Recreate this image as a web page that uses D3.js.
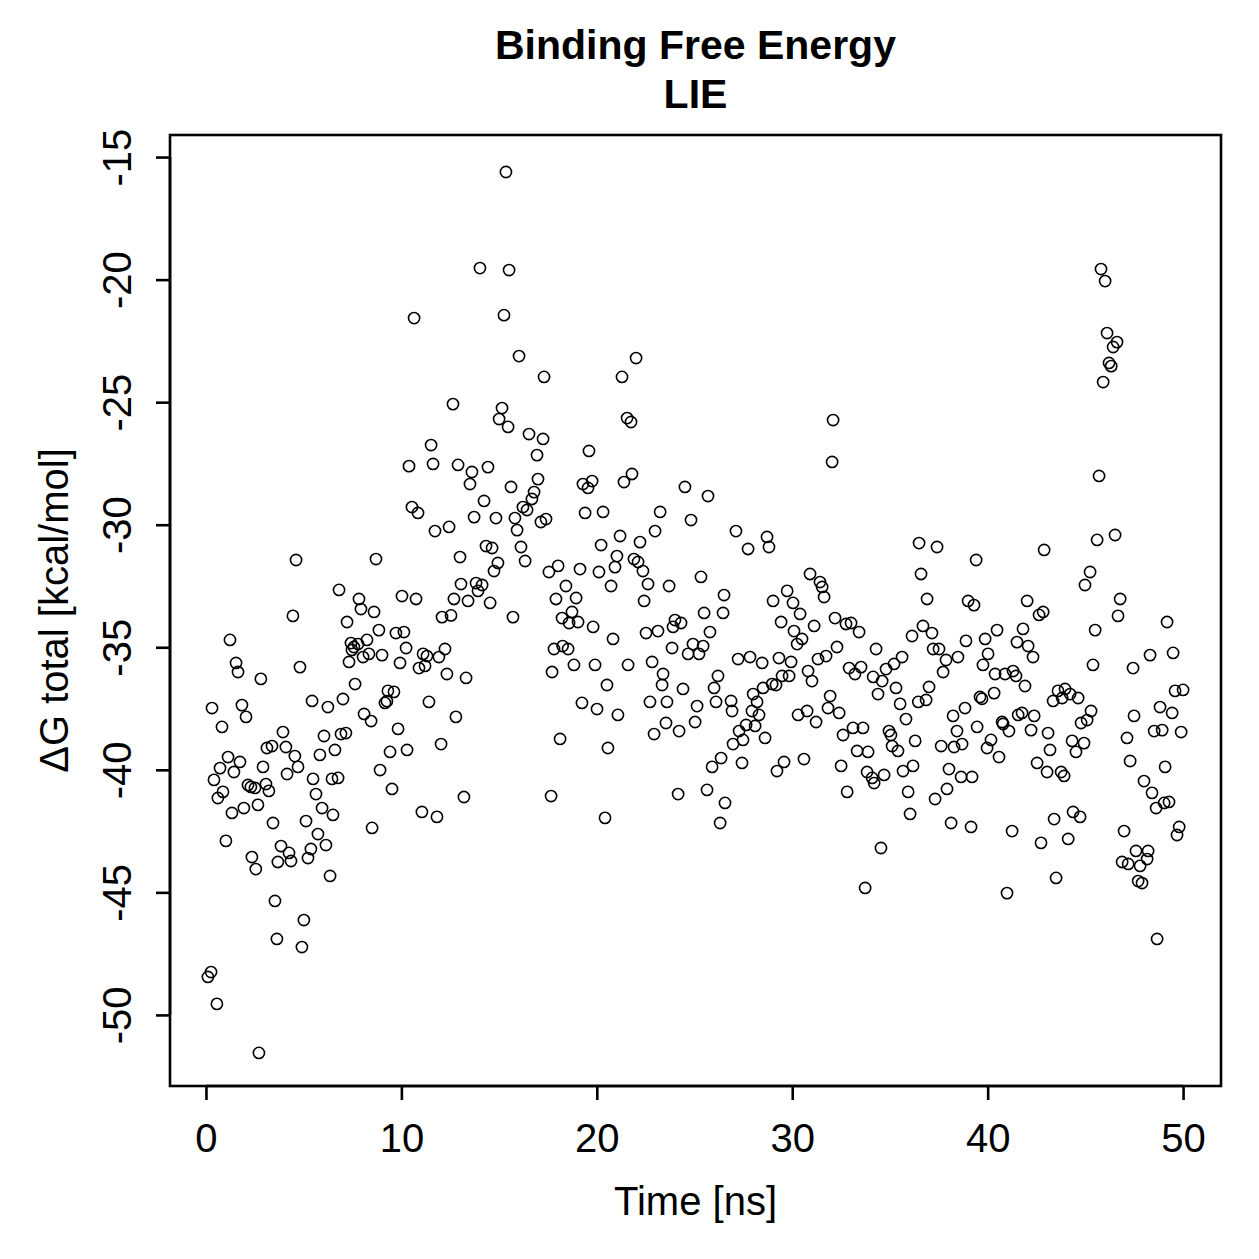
<!DOCTYPE html>
<html>
<head>
<meta charset="utf-8">
<script src="https://cdn.jsdelivr.net/npm/d3@7"></script>
<style>
  html, body { margin: 0; padding: 0; background: #ffffff; }
  svg { display: block; }
  text { font-family: "Liberation Sans", Arial, Helvetica, sans-serif; fill: #000; }
</style>
</head>
<body>
<svg id="chart" width="1259" height="1259"></svg>
<script>
// ---- Data ----
const titleLines = ["Binding Free Energy", "LIE"];
const xLabel = "Time [ns]";
const yLabel = "\u0394G total [kcal/mol]";
const xTicks = [0, 10, 20, 30, 40, 50];
const xTickLabels = ["0", "10", "20", "30", "40", "50"];
const yTicks = [-15, -20, -25, -30, -35, -40, -45, -50];
const yTickLabels = ["-15", "-20", "-25", "-30", "-35", "-40", "-45", "-50"];

const timeNs = [
0.10,0.26,0.31,0.41,0.56,0.61,0.72,0.82,0.87,1.02,1.13,1.23,1.33,1.43,1.54,1.64,1.74,1.84,1.94,2.05,
2.15,2.30,2.35,2.51,2.55,2.66,2.71,2.81,2.92,3.07,3.12,3.22,3.38,3.43,3.53,3.63,3.68,3.84,3.94,4.09,
4.15,4.25,4.35,4.45,4.55,4.61,4.71,4.81,4.91,5.01,5.12,5.22,5.37,5.43,5.48,5.63,5.73,5.83,5.94,6.04,
6.14,6.24,6.35,6.45,6.50,6.60,6.76,6.81,6.91,7.01,7.16,7.22,7.32,7.42,7.47,7.57,7.63,7.78,7.83,7.93,
8.04,8.09,8.24,8.34,8.45,8.50,8.60,8.70,8.85,8.91,9.01,9.16,9.26,9.31,9.42,9.52,9.62,9.72,9.83,9.93,
10.03,10.13,10.24,10.29,10.39,10.54,10.65,10.75,10.85,10.90,11.05,11.11,11.21,11.31,11.41,11.52,11.62,11.72,11.82,11.92,
12.03,12.08,12.23,12.33,12.44,12.54,12.64,12.69,12.79,12.90,13.00,13.05,13.20,13.31,
13.41,13.51,13.61,13.72,13.82,13.92,14.02,14.13,14.23,14.33,14.43,14.54,14.64,14.74,14.84,14.94,15.00,15.15,15.25,15.35,
15.46,15.51,15.61,15.71,15.81,15.92,16.02,16.12,16.22,16.33,16.43,16.53,16.68,16.79,16.94,16.99,17.14,17.25,17.30,17.40,
17.55,17.66,17.71,17.81,17.91,18.02,18.12,18.22,18.25,18.42,18.53,18.58,18.73,18.83,18.94,19.04,19.14,19.24,19.29,19.40,
19.55,19.60,19.76,19.81,19.91,20.01,20.11,20.22,20.32,20.42,20.52,20.57,20.73,20.83,20.93,21.03,21.08,21.19,21.29,21.39,
21.55,21.60,21.75,21.80,21.90,22.01,22.11,22.21,22.36,22.42,22.52,22.62,22.72,22.83,22.93,22.98,23.13,23.24,23.34,23.39,
23.54,23.59,23.70,23.85,23.90,24.00,24.16,24.21,24.31,24.41,24.51,24.67,24.82,24.92,25.03,25.13,25.23,25.33,25.44,25.49,
25.64,25.69,25.79,25.90,26.00,26.10,26.20,26.31,26.36,
26.46,26.51,26.56,26.87,26.92,26.97,27.12,27.23,27.28,27.43,27.48,27.64,27.74,27.84,27.94,28.00,28.10,28.20,28.30,28.46,
28.51,28.61,28.71,28.81,28.97,29.02,29.17,29.22,29.32,29.43,29.48,29.58,29.74,29.84,29.94,30.04,30.09,30.25,30.30,30.40,
30.50,30.60,30.76,30.81,30.91,31.01,31.12,31.22,31.32,31.42,31.53,31.63,31.73,31.83,31.94,32.04,32.09,32.19,32.29,32.40,
32.50,32.60,32.75,32.81,32.91,33.01,33.11,33.21,33.32,33.42,33.52,33.62,33.73,33.83,33.88,34.09,34.14,34.19,34.29,34.39,
34.54,34.60,34.70,34.80,34.95,35.05,35.11,35.21,35.31,35.41,35.52,35.62,35.67,35.82,35.93,36.03,36.13,36.18,36.29,36.45,
36.49,36.59,36.69,36.85,36.90,37.00,37.15,37.21,37.31,37.41,37.51,37.62,37.72,37.87,37.92,38.02,38.13,38.23,38.28,38.43,
38.48,38.64,38.69,38.84,38.89,39.00,39.15,39.20,39.30,39.41,39.46,39.61,39.71,39.76,39.87,39.97,40.02,
40.17,40.33,40.38,40.48,40.58,40.74,40.79,40.89,40.99,41.09,41.25,41.30,41.45,41.50,41.56,41.76,41.81,41.91,42.02,42.07,
42.22,42.32,42.38,42.53,42.63,42.73,42.84,42.89,43.04,43.09,43.19,43.35,43.40,43.50,43.60,43.76,43.81,43.91,43.96,44.12,
44.22,44.32,44.37,44.52,44.63,44.73,44.78,44.93,44.98,45.09,45.24,45.29,45.39,45.50,45.60,45.70,45.80,45.91,46.01,46.11,
46.21,46.32,46.42,46.52,46.62,46.67,46.78,46.88,46.98,47.13,47.19,47.29,47.44,47.49,47.59,47.70,47.80,47.90,48.00,48.16,
48.21,48.31,48.41,48.52,48.62,48.67,48.82,48.93,49.03,49.08,49.18,49.28,49.44,49.49,49.59,49.69,49.80,49.90,50.00
];

const deltaG = [
-48.45,-48.25,-37.48,-40.41,-49.55,-41.15,-39.93,-38.25,-40.90,-42.90,-39.48,-34.70,-41.76,-40.09,-35.64,-36.01,-39.68,-37.36,-41.56,-37.84,
-40.62,-40.70,-43.56,-40.74,-44.05,-41.43,-51.55,-36.29,-39.88,-40.58,-39.11,-40.86,-39.03,-42.17,-45.35,-46.90,-43.76,-43.11,-38.46,-39.07,
-40.17,-43.39,-43.72,-33.72,-39.44,-31.44,-39.88,-35.81,-47.23,-46.13,-42.09,-43.60,-43.23,-37.19,-40.37,-40.99,-42.62,-39.39,-41.56,-38.62,
-43.07,-37.44,-44.33,-40.37,-41.84,-39.19,-40.33,-32.66,-38.54,-37.11,-38.50,-33.97,-35.60,-34.83,-35.11,-34.99,-36.50,-34.87,-33.03,-33.44,
-35.40,-37.72,-34.70,-35.27,-38.01,-42.37,-33.56,-31.40,-34.30,-40.01,-35.32,-37.27,-37.20,-36.78,-39.27,-40.78,-36.82,-34.42,-38.33,-35.64,
-32.91,-34.38,-35.03,-39.19,-27.61,-29.28,-21.57,-33.03,-29.52,-35.85,-41.72,-35.27,-35.76,-35.36,-37.23,-26.75,-27.52,-30.26,-41.92,-35.40,
-38.95,-33.77,-35.07,-36.09,-30.09,-33.70,-25.08,-33.03,-37.84,-27.56,-31.32,-32.42,-41.11,-36.25,
-33.11,-28.34,-27.85,-29.69,-32.38,-32.70,-19.53,-32.46,-29.03,-30.87,-27.65,-33.19,-30.95,-31.89,-29.73,-31.56,-25.69,-25.24,-21.45,-15.61,
-26.01,-19.61,-28.46,-33.77,-29.73,-30.22,-23.12,-30.91,-29.28,-31.48,-29.40,-26.30,-28.95,-28.67,-27.16,-28.14,-29.89,-26.50,-23.97,-29.77,
-31.93,-41.07,-36.01,-35.07,-33.03,-31.68,-38.74,-33.81,-34.95,-32.50,-35.07,-34.01,-33.56,-35.72,-32.99,-33.97,-31.81,-37.27,-28.34,-29.52,
-28.50,-26.99,-28.22,-34.17,-35.72,-37.52,-31.93,-30.83,-29.48,-41.96,-36.54,-39.11,-32.50,-34.66,-31.73,-31.28,-37.76,-30.46,-23.97,-28.26,
-25.65,-35.72,-25.81,-27.93,-31.40,-23.20,-31.52,-30.71,-31.89,-33.11,-34.42,-32.42,-37.23,-35.60,-38.54,-30.26,-34.34,-29.48,-36.54,-36.09,
-38.09,-37.23,-32.50,-35.03,-34.17,-33.89,-40.99,-38.42,-34.01,-36.70,-28.46,-35.27,-29.81,-34.87,-38.05,-37.40,-35.27,-32.13,-34.95,-33.60,
-40.82,-28.83,-34.38,-39.88,-36.66,-37.23,-36.17,-42.17,-39.52,
-33.60,-32.87,-41.35,-37.19,-37.60,-38.95,-30.26,-35.48,-38.42,-39.72,-38.78,-38.17,-30.99,-35.40,-37.60,-36.91,-38.21,-37.23,-37.76,-35.64,
-36.66,-38.70,-30.50,-30.91,-36.50,-33.11,-36.54,-40.05,-35.44,-33.97,-36.17,-39.68,-32.70,-36.17,-35.60,-33.19,-34.34,-34.87,-37.76,-33.64,
-34.66,-39.56,-37.60,-35.97,-32.01,-36.38,-34.13,-38.05,-35.48,-32.34,-32.54,-32.95,-35.36,-37.48,-36.99,-27.44,-25.73,-33.81,-34.99,-37.68,
-39.84,-38.58,-34.05,-40.90,-35.85,-34.01,-38.29,-36.09,-39.23,-34.38,-35.81,-38.29,-44.82,-40.09,-39.27,-40.33,-36.21,-40.54,-35.07,-36.91,
-43.19,-36.38,-40.21,-35.89,-38.42,-38.58,-39.03,-35.68,-36.66,-39.23,-37.31,-35.40,-40.05,-37.93,-40.90,-41.80,-34.54,-39.84,-38.82,-37.23,
-30.75,-32.01,-34.13,-37.15,-33.03,-36.62,-34.42,-35.07,-41.19,-30.91,-35.07,-39.03,-36.01,-35.52,-40.78,-39.97,-42.17,-37.80,-39.07,-38.42,
-35.40,-40.29,-38.95,-37.48,-34.74,-33.11,-42.33,-40.29,-33.28,-31.44,-38.25,-37.03,-37.10,-35.72,-34.66,-39.11,-35.27,
-38.78,-36.87,-36.09,-34.30,-39.48,-38.05,-38.13,-36.09,-45.03,-38.42,-42.50,-35.97,-36.17,-34.79,-37.76,-37.68,-34.25,-36.58,-33.11,-34.95,
-38.38,-35.40,-37.80,-39.72,-33.68,-42.98,-33.56,-31.03,-40.09,-38.50,-39.19,-37.19,-42.01,-44.41,-36.78,-40.09,-37.07,-40.25,-36.70,-42.82,
-36.91,-38.82,-41.72,-39.27,-37.07,-41.92,-38.09,-38.91,-32.46,-37.97,-31.93,-37.60,-35.72,-34.30,-30.62,-28.01,-19.57,-24.18,-20.06,-22.18,
-23.40,-23.53,-22.75,-30.42,-22.55,-33.72,-33.03,-43.76,-42.50,-38.70,-43.84,-39.64,-35.85,-37.80,-43.31,-44.54,-43.92,-44.62,-40.46,-43.64,
-43.31,-35.32,-40.94,-38.42,-41.56,-46.90,-37.44,-38.38,-41.35,-39.88,-33.97,-41.31,-37.68,-35.23,-36.78,-42.66,-42.33,-38.46,-36.74
];

// ---- Layout ----
const svg = d3.select("#chart");
const W = 1259, H = 1259;
svg.append("rect").attr("x", 0).attr("y", 0).attr("width", W).attr("height", H).attr("fill", "#fff");

const plot = { left: 170, right: 1221, top: 135, bottom: 1086 };
const fontSize = 40;

// R-style padded domains (4% extension)
const x = d3.scaleLinear().domain([-1.84, 51.94]).range([plot.left, plot.right]);
const y = d3.scaleLinear().domain([-52.9, -14.1]).range([plot.bottom, plot.top]);

const data = timeNs.map((t, i) => ({ t: t, v: deltaG[i] }));

// points
svg.append("g")
  .selectAll("circle")
  .data(data)
  .enter()
  .append("circle")
  .attr("cx", d => x(d.t))
  .attr("cy", d => y(d.v))
  .attr("r", 5.6)
  .attr("fill", "none")
  .attr("stroke", "#000")
  .attr("stroke-width", 1.6);

// box
svg.append("rect")
  .attr("x", plot.left).attr("y", plot.top)
  .attr("width", plot.right - plot.left)
  .attr("height", plot.bottom - plot.top)
  .attr("fill", "none").attr("stroke", "#000").attr("stroke-width", 2.6);

// x axis
const xAxis = d3.axisBottom(x)
  .tickValues(xTicks)
  .tickSize(14)
  .tickPadding(24)
  .tickFormat((d, i) => xTickLabels[i]);
const gx = svg.append("g").attr("transform", `translate(0,${plot.bottom})`).call(xAxis);
gx.select(".domain").attr("d", `M${x(xTicks[0])},0H${x(xTicks[xTicks.length - 1])}`).attr("stroke-width", 2.6);
gx.selectAll(".tick line").attr("stroke-width", 2.6);
gx.selectAll(".tick text").attr("font-size", fontSize).attr("font-family", "Liberation Sans, Arial, sans-serif").attr("fill", "#000");

// y axis
const yAxis = d3.axisLeft(y)
  .tickValues(yTicks)
  .tickSize(14)
  .tickFormat((d, i) => yTickLabels[i]);
const gy = svg.append("g").attr("transform", `translate(${plot.left},0)`).call(yAxis);
gy.select(".domain").attr("d", `M0,${y(yTicks[0])}V${y(yTicks[yTicks.length - 1])}`).attr("stroke-width", 2.6);
gy.selectAll(".tick line").attr("stroke-width", 2.6);
gy.selectAll(".tick text")
  .attr("font-size", fontSize)
  .attr("font-family", "Liberation Sans, Arial, sans-serif")
  .attr("fill", "#000")
  .attr("x", null).attr("dy", null)
  .attr("text-anchor", "middle")
  .attr("transform", "translate(-39,0) rotate(-90)");

// titles
svg.append("text")
  .attr("x", (plot.left + plot.right) / 2).attr("y", 59)
  .attr("text-anchor", "middle").attr("font-size", 41).attr("font-weight", "bold")
  .text(titleLines[0]);
svg.append("text")
  .attr("x", (plot.left + plot.right) / 2).attr("y", 108)
  .attr("text-anchor", "middle").attr("font-size", 41).attr("font-weight", "bold")
  .text(titleLines[1]);

// axis labels
svg.append("text")
  .attr("x", (plot.left + plot.right) / 2).attr("y", 1215)
  .attr("text-anchor", "middle").attr("font-size", fontSize)
  .text(xLabel);
svg.append("text")
  .attr("transform", `translate(68,${(plot.top + plot.bottom) / 2}) rotate(-90)`)
  .attr("text-anchor", "middle").attr("font-size", fontSize)
  .text(yLabel);
</script>
</body>
</html>
